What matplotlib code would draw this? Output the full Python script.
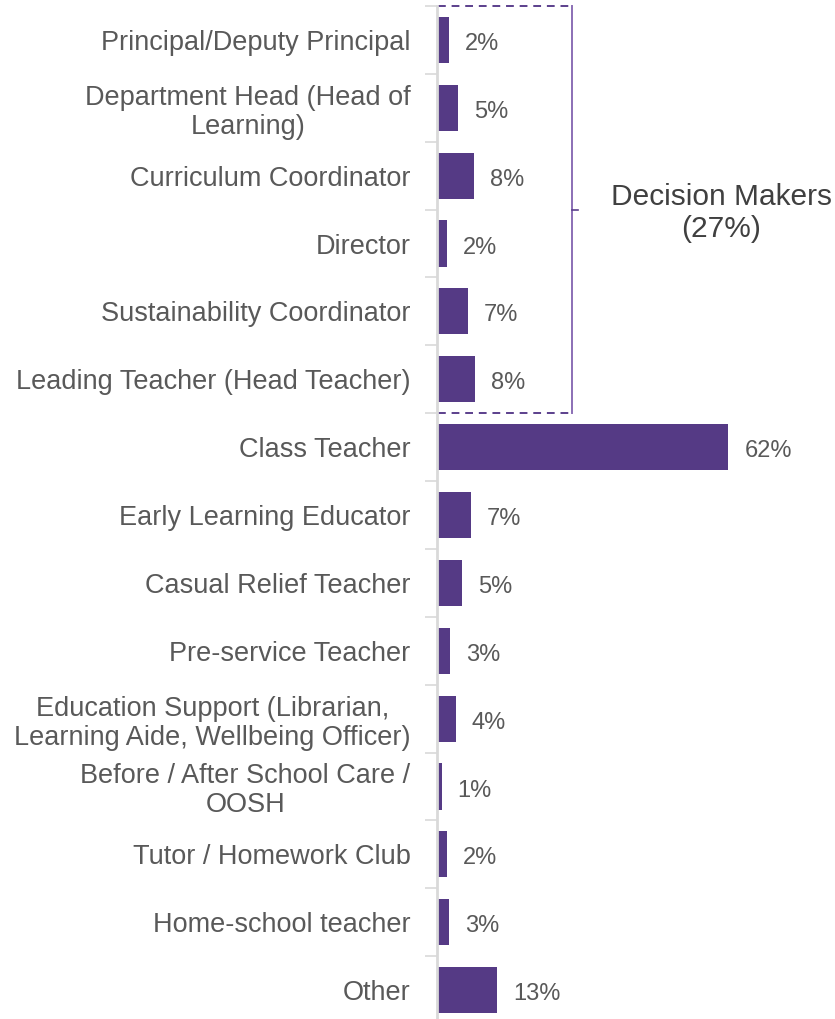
import numpy as np
import matplotlib.pyplot as plt

# Role breakdown of respondents
roles = [
    "Principal/Deputy Principal",
    "Department Head (Head of\nLearning)",
    "Curriculum Coordinator",
    "Director",
    "Sustainability Coordinator",
    "Leading Teacher (Head Teacher)",
    "Class Teacher",
    "Early Learning Educator",
    "Casual Relief Teacher",
    "Pre-service Teacher",
    "Education Support (Librarian,\nLearning Aide, Wellbeing Officer)",
    "Before / After School Care /\nOOSH",
    "Tutor / Homework Club",
    "Home-school teacher",
    "Other",
]
shares = [2.5, 4.5, 7.8, 2.2, 6.6, 8.0, 62.0, 7.2, 5.3, 2.7, 4.0, 1.0, 2.2, 2.6, 12.8]
share_labels = ["2%", "5%", "8%", "2%", "7%", "8%", "62%", "7%", "5%", "3%", "4%", "1%", "2%", "3%", "13%"]
group_label = "Decision Makers\n(27%)"
n_group = 6

bar_col = "#553A85"
txt_col = "#595959"

plt.rcParams['font.family'] = ['Liberation Sans', 'DejaVu Sans']

fig = plt.figure(figsize=(8.35, 10.19), dpi=100)
ax = fig.add_axes([437 / 835, 1 - 1024 / 1019, 1 - 437 / 835, 1018 / 1019])

y = np.arange(len(roles))
ax.barh(y, shares, height=0.68, color=bar_col)
for yi, v, lab in zip(y, shares, share_labels):
    ax.text(v + 3.4, yi + 0.06, lab, va="center", ha="left", fontsize=17, color=txt_col)

ax.set_xlim(0, 84.7)
ax.set_ylim(len(roles) - 0.5, -0.5)
ax.set_yticks(y)
ax.set_yticklabels(roles, fontsize=19.5, color=txt_col, linespacing=1.15,
                   multialignment="center")
ax.set_yticks(np.arange(-0.5, len(roles)), minor=True)
ax.tick_params(axis="y", which="major", length=0, pad=19)
ax.tick_params(axis="y", which="minor", length=9, width=1.2, color="#d9d9d9")
ax.set_xticks([])
for s in ["top", "right", "bottom"]:
    ax.spines[s].set_visible(False)
ax.spines["left"].set_color("#d9d9d9")
ax.spines["left"].set_linewidth(2)

# bracket around decision makers
bx = 28.7
top, bot = -0.5, n_group - 0.5
ax.plot([0.3, bx], [top, top], ls=(0, (4, 3)), color="#5B3F8C", lw=1.4, clip_on=False)
ax.plot([0.3, bx], [bot, bot], ls=(0, (4, 3)), color="#5B3F8C", lw=1.4)
ax.plot([bx, bx], [top, bot], color="#8B6FB5", lw=1.4, clip_on=False)
ax.plot([bx, bx + 1.3], [(top + bot) / 2] * 2, color="#5B3F8C", lw=1.2)
ax.text(60.5, (top + bot) / 2 + 0.05, group_label, ha="center", va="center",
        fontsize=21.5, color="#404040", linespacing=1.15)

fig.savefig("out.png", dpi=100)
